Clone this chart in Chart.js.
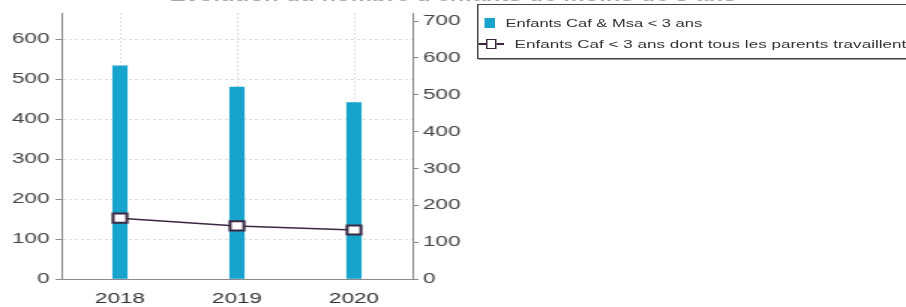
<!DOCTYPE html>
<html>
<head>
<meta charset="utf-8">
<script src="https://cdn.jsdelivr.net/npm/chart.js@4.4.0/dist/chart.umd.min.js"></script>
<style>
  html, body { margin: 0; padding: 0; background: #fff; overflow: hidden; }
  #wrap { position: relative; width: 604px; height: 307px; transform: scale(1.5, 1); transform-origin: 0 0; }
  #chart { position: absolute; left: 0; top: 0; }
  #title { position: absolute; left: 0; width: 604px; top: -13px; text-align: center;
           font: bold 16px "Liberation Sans", Arial, sans-serif; color: #aaa; }
  #legend { position: absolute; left: 318px; top: 4px; width: 330px; height: 53px;
            border: 1px solid #444; box-shadow: 1px 1px 0 #999;
            font: 11px "Liberation Sans", Arial, sans-serif; color: #333; background: #fff; }
  .row { position: absolute; left: 0; height: 14px; line-height: 14px; white-space: nowrap; }
  .row .txt { position: absolute; top: 0; }
  .sq { position: absolute; left: 4px; top: 2px; width: 7px; height: 10px; }
  .ln { position: absolute; left: 0px; top: 6px; width: 17px; height: 1.5px; }
  .pt { position: absolute; left: 5px; top: 2px; width: 5px; height: 8px; background: #fff; }
</style>
</head>
<body>
<div id="wrap">
  <div id="title">Evolution du nombre d'enfants de moins de 3 ans</div>
  <canvas id="chart" width="604" height="307"></canvas>
  <div id="legend"></div>
</div>
<script>
// données
const annees = ['2018', '2019', '2020'];
const enfantsCafMsa = [533, 480, 441];
const enfantsParentsTravaillent = [165, 144, 133];
const labelsSeries = ['Enfants Caf & Msa < 3 ans', 'Enfants Caf < 3 ans dont tous les parents travaillent'];

const couleurBarre = '#17a3cc';
const couleurLigne = '#3b2840';

// légende en html (position libre)
const leg = document.getElementById('legend');
leg.innerHTML =
  '<div class="row" style="top:11px"><span class="sq" style="background:' + couleurBarre + '"></span>' +
  '<span class="txt" style="left:18px">' + labelsSeries[0].replace(/&/g, '&amp;').replace(/</g, '&lt;') + '</span></div>' +
  '<div class="row" style="top:32px"><span class="ln" style="background:' + couleurLigne + '"></span>' +
  '<span class="pt" style="border:1.5px solid ' + couleurLigne + '"></span>' +
  '<span class="txt" style="left:24px;font-size:11.4px">' + labelsSeries[1].replace(/</g, '&lt;') + '</span></div>';

const tickFont = { family: '"Liberation Sans", Arial, sans-serif', size: 15 };

new Chart(document.getElementById('chart'), {
  type: 'bar',
  data: {
    labels: annees,
    datasets: [
      {
        type: 'line',
        label: labelsSeries[1],
        data: enfantsParentsTravaillent,
        yAxisID: 'y2',
        borderColor: couleurLigne,
        borderWidth: 1.5,
        pointStyle: 'rect',
        pointRadius: 6.5,
        pointBackgroundColor: '#fff',
        pointBorderColor: couleurLigne,
        pointBorderWidth: 2,
        order: 0
      },
      {
        label: labelsSeries[0],
        data: enfantsCafMsa,
        yAxisID: 'y',
        backgroundColor: couleurBarre,
        barThickness: 9.5,
        order: 1
      }
    ]
  },
  options: {
    responsive: false,
    animation: { duration: 0 },
    layout: { padding: { top: 12, right: 289, left: 0, bottom: 0 } },
    plugins: {
      legend: { display: false },
      tooltip: { enabled: false }
    },
    scales: {
      x: {
        offset: true,
        grid: { offset: false, color: '#dcdcdc', drawTicks: false },
        border: { color: '#8a8a8a', width: 1, dash: [2, 2] },
        ticks: { color: '#333', font: { family: tickFont.family, size: 15 }, padding: 11 },
        afterFit: s => { s.height = 28; }
      },
      y: {
        position: 'left',
        min: 0, max: 665,
        ticks: { stepSize: 100, includeBounds: false, color: '#444', font: tickFont, padding: 4 },
        grid: { color: '#dcdcdc', tickColor: '#8a8a8a', tickLength: 4, tickBorderDash: [] },
        border: { color: '#8a8a8a', width: 1, dash: [2, 2] },
        afterFit: s => { s.width = 41; }
      },
      y2: {
        position: 'right',
        min: 0, max: 722,
        ticks: { stepSize: 100, includeBounds: false, color: '#444', font: tickFont, padding: 3 },
        grid: { drawOnChartArea: false, tickColor: '#8a8a8a', tickLength: 4 },
        border: { color: '#8a8a8a', width: 1 },
        afterFit: s => { s.width = 40; }
      }
    }
  }
});
</script>
</body>
</html>
